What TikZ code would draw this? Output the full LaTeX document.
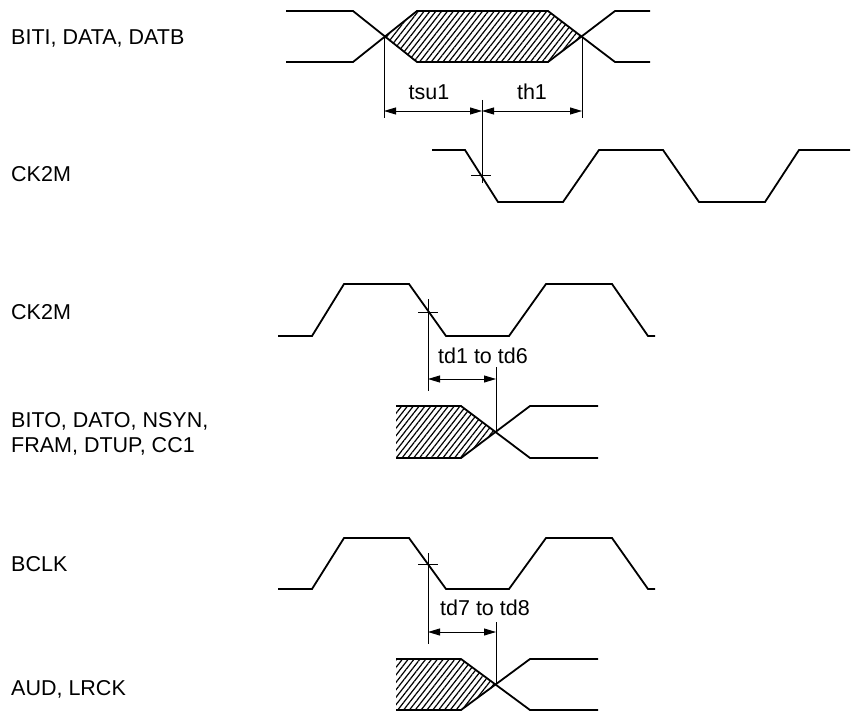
\documentclass[tikz,border=0pt]{standalone}
\usepackage{fontspec}
\setmainfont{Liberation Sans}
\usetikzlibrary{arrows.meta,patterns.meta}
\begin{document}
\begin{tikzpicture}[x=1pt,y=-1pt,
  wave/.style={line width=1.8pt,line join=miter,line cap=butt},
  thin/.style={line width=0.8pt},
  dim/.style={line width=0.9pt,{Triangle[length=12pt,width=7pt]}-{Triangle[length=12pt,width=7pt]}},
  hatch/.style={pattern={Lines[angle=52,distance=4.6pt,line width=1.2pt]}},
  lbl/.style={font=\fontsize{21.5}{25}\selectfont,inner sep=0pt,anchor=base west},
  tlbl/.style={font=\fontsize{21.5}{25}\selectfont,inner sep=0pt,anchor=base}]
\useasboundingbox (0,0) rectangle (853,711);

% signal names
\node[lbl] (n1) at (11,45) {BITI, DATA, DATB};
\node[lbl] (n2) at (11,182) {CK2M};
\node[lbl] (n3) at (11,319) {CK2M};
\node[lbl] (n4) at (11,427) {BITO, DATO, NSYN,};
\node[lbl] (n5) at (11,452) {FRAM, DTUP, CC1};
\node[lbl] (n6) at (11,571) {BCLK};
\node[lbl] (n7) at (11,695) {AUD, LRCK};

% ---- top data waveform
\fill[hatch] (384,37) -- (417,11) -- (548,11) -- (582,37) -- (548,62) -- (417,62) -- cycle;
\draw[wave] (286,11) -- (353,11) -- (417,62) -- (548,62) -- (615,11) -- (650,11);
\draw[wave] (286,62) -- (353,62) -- (417,11) -- (548,11) -- (615,62) -- (650,62);

% ---- top clock
\draw[wave] (432,150) -- (465,150) -- (498,202) -- (563,202) -- (599,150) -- (663,150)
  -- (699,202) -- (765,202) -- (799,150) -- (850,150);

% top timing
\coordinate (xa) at (384,37);
\coordinate (xa2) at (384,118);
\coordinate (xb) at (582,37);
\coordinate (xb2) at (582,118);
\coordinate (xm) at (482,100);
\coordinate (xm2) at (482,183);
\coordinate (ta) at (384,111);
\coordinate (tm) at (482,111);
\coordinate (tb) at (582,111);
\draw[thin] (xa) -- (xa2);
\draw[thin] (xb) -- (xb2);
\draw[thin] (xm) -- (xm2);
\draw[thin] (471,175) -- (491,175);
\draw[dim] (ta) -- (tm);
\draw[dim] (tm) -- (tb);
\node[tlbl] (l1) at (429,100) {tsu1};
\node[tlbl] (l2) at (532,100) {th1};

% ---- middle clock
\draw[wave] (278,336) -- (312,336) -- (344,284) -- (409,284) -- (446,336) -- (509,336)
  -- (546,284) -- (612,284) -- (648,336) -- (655,336);
\draw[thin] (418,312) -- (438,312);
\coordinate (ma) at (428,299);
\coordinate (ma2) at (428,391);
\coordinate (mb) at (496,367);
\coordinate (mb2) at (496,432);
\draw[thin] (ma) -- (ma2);
\draw[thin] (mb) -- (mb2);
\coordinate (da) at (428,379);
\coordinate (db) at (496,379);
\draw[dim] (da) -- (db);
\node[tlbl] (l3) at (483,363) {td1 to td6};

% middle data
\fill[hatch] (396,406) -- (461,406) -- (496,432) -- (461,458) -- (396,458) -- cycle;
\draw[wave] (396,406) -- (461,406) -- (530,458) -- (598,458);
\draw[wave] (396,458) -- (461,458) -- (530,406) -- (598,406);

% ---- bottom clock
\draw[wave] (278,589) -- (312,589) -- (344,538) -- (409,538) -- (446,589) -- (509,589)
  -- (546,538) -- (612,538) -- (648,589) -- (655,589);
\draw[thin] (418,564) -- (438,564);
\coordinate (ba) at (428,553);
\coordinate (ba2) at (428,644);
\coordinate (bb) at (496,622);
\coordinate (bb2) at (496,685);
\draw[thin] (ba) -- (ba2);
\draw[thin] (bb) -- (bb2);
\coordinate (ea) at (428,632);
\coordinate (eb) at (496,632);
\draw[dim] (ea) -- (eb);
\node[tlbl] (l4) at (485,615) {td7 to td8};

% bottom data
\fill[hatch] (396,659) -- (461,659) -- (496,685) -- (461,710) -- (396,710) -- cycle;
\draw[wave] (396,659) -- (461,659) -- (530,710) -- (598,710);
\draw[wave] (396,710) -- (461,710) -- (530,659) -- (598,659);
\end{tikzpicture}
\end{document}
